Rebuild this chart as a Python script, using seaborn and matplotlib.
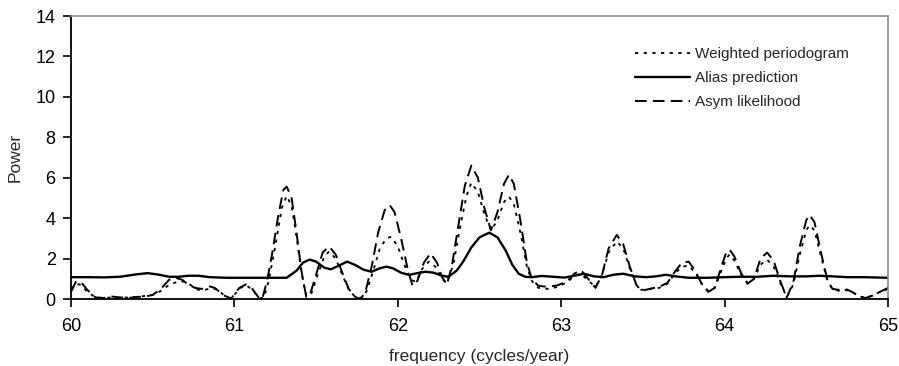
import numpy as np
import pandas as pd
import matplotlib
matplotlib.use("Agg")
import matplotlib.pyplot as plt
import seaborn as sns

# ---- data ----
asym_x = [60.00, 60.03, 60.06, 60.10, 60.15, 60.20, 60.25, 60.30, 60.35, 60.40, 60.45, 60.50,
          60.55, 60.60, 60.64, 60.68, 60.72, 60.76, 60.80, 60.85, 60.88, 60.93, 60.98, 61.03,
          61.07, 61.11, 61.15, 61.17, 61.20, 61.23, 61.27, 61.30, 61.32, 61.35, 61.38, 61.41,
          61.44, 61.46, 61.50, 61.54, 61.58, 61.62, 61.66, 61.70, 61.74, 61.77, 61.80, 61.84,
          61.88, 61.92, 61.95, 61.98, 62.02, 62.06, 62.09, 62.12, 62.16, 62.20, 62.24, 62.27,
          62.30, 62.33, 62.37, 62.41, 62.45, 62.49, 62.53, 62.57, 62.61, 62.65, 62.68, 62.71,
          62.75, 62.79, 62.82, 62.86, 62.92, 62.98, 63.04, 63.08, 63.12, 63.16, 63.21, 63.25,
          63.29, 63.34, 63.38, 63.42, 63.46, 63.49, 63.54, 63.60, 63.65, 63.70, 63.74, 63.78,
          63.82, 63.86, 63.90, 63.94, 63.98, 64.01, 64.03, 64.06, 64.10, 64.14, 64.18, 64.22,
          64.26, 64.30, 64.34, 64.38, 64.42, 64.46, 64.50, 64.52, 64.55, 64.59, 64.63, 64.66,
          64.70, 64.74, 64.78, 64.82, 64.86, 64.90, 64.95, 65.00]
asym_y = [0.35, 0.85, 0.85, 0.45, 0.08, 0.05, 0.12, 0.08, 0.05, 0.10, 0.12, 0.20,
          0.50, 0.95, 1.05, 0.95, 0.70, 0.55, 0.50, 0.62, 0.55, 0.20, 0.02, 0.55,
          0.72, 0.50, 0.05, 0.00, 0.90, 2.20, 4.20, 5.40, 5.56, 5.00, 3.30, 1.40,
          0.10, 0.15, 1.20, 2.30, 2.60, 2.20, 1.30, 0.50, 0.10, 0.00, 0.30, 1.60,
          3.30, 4.40, 4.65, 4.30, 3.00, 1.50, 0.65, 0.90, 1.80, 2.26, 1.80, 1.10,
          0.70, 1.60, 3.60, 5.60, 6.60, 6.00, 4.50, 3.40, 4.30, 5.70, 6.15, 5.70,
          3.90, 1.80, 1.00, 0.65, 0.60, 0.68, 0.90, 1.25, 1.43, 1.05, 0.55, 1.20,
          2.50, 3.17, 2.70, 1.60, 0.70, 0.40, 0.50, 0.60, 0.80, 1.40, 1.80, 1.85,
          1.40, 0.75, 0.35, 0.55, 1.60, 2.30, 2.45, 2.10, 1.30, 0.75, 1.00, 2.00,
          2.30, 1.90, 0.90, 0.08, 0.80, 2.60, 3.90, 4.16, 3.80, 2.30, 0.90, 0.50,
          0.45, 0.50, 0.35, 0.15, 0.05, 0.15, 0.35, 0.55]

wper_x = [60.00, 60.03, 60.06, 60.10, 60.15, 60.20, 60.25, 60.30, 60.35, 60.40, 60.45, 60.50,
          60.55, 60.60, 60.66, 60.70, 60.74, 60.78, 60.82, 60.86, 60.90, 60.94, 60.98, 61.03,
          61.07, 61.11, 61.15, 61.18, 61.21, 61.25, 61.29, 61.32, 61.35, 61.38, 61.41, 61.44,
          61.47, 61.51, 61.55, 61.58, 61.62, 61.66, 61.70, 61.74, 61.78, 61.81, 61.85, 61.89,
          61.93, 61.96, 62.00, 62.04, 62.08, 62.11, 62.15, 62.19, 62.23, 62.27, 62.30, 62.34,
          62.38, 62.42, 62.45, 62.49, 62.53, 62.57, 62.61, 62.65, 62.68, 62.71, 62.75, 62.79,
          62.82, 62.86, 62.92, 62.98, 63.04, 63.08, 63.12, 63.16, 63.21, 63.25, 63.29, 63.34,
          63.38, 63.42, 63.46, 63.49, 63.54, 63.60, 63.65, 63.70, 63.74, 63.78, 63.82, 63.86,
          63.90, 63.94, 63.98, 64.01, 64.03, 64.06, 64.10, 64.14, 64.18, 64.22, 64.26, 64.30,
          64.34, 64.38, 64.42, 64.46, 64.50, 64.52, 64.55, 64.59, 64.63, 64.66, 64.70, 64.74,
          64.78, 64.82, 64.86, 64.90, 64.95, 65.00]
wper_y = [0.50, 0.75, 0.70, 0.35, 0.08, 0.05, 0.08, 0.05, 0.08, 0.10, 0.15, 0.20,
          0.40, 0.70, 0.88, 0.85, 0.65, 0.45, 0.45, 0.55, 0.45, 0.15, 0.02, 0.50,
          0.70, 0.45, 0.05, 0.05, 0.90, 2.60, 4.50, 5.10, 4.60, 3.10, 1.30, 0.15,
          0.25, 1.20, 2.10, 2.35, 2.00, 1.20, 0.45, 0.10, 0.05, 0.40, 1.40, 2.50,
          3.00, 3.08, 2.60, 1.70, 0.95, 0.85, 1.50, 1.85, 1.60, 1.00, 0.80, 1.70,
          3.50, 5.10, 5.75, 5.30, 4.20, 3.40, 3.90, 4.80, 5.07, 4.70, 3.30, 1.60,
          0.90, 0.55, 0.50, 0.60, 0.85, 1.15, 1.25, 0.95, 0.60, 1.20, 2.30, 2.85,
          2.50, 1.50, 0.70, 0.45, 0.50, 0.55, 0.75, 1.30, 1.60, 1.65, 1.30, 0.75,
          0.40, 0.55, 1.40, 2.00, 2.20, 1.90, 1.20, 0.80, 1.00, 1.70, 1.95, 1.60,
          0.80, 0.10, 0.70, 2.20, 3.40, 3.65, 3.40, 2.10, 0.90, 0.50, 0.40, 0.45,
          0.35, 0.15, 0.05, 0.15, 0.35, 0.50]

alias_x = [60.00, 60.10, 60.20, 60.30, 60.40, 60.47, 60.54, 60.60, 60.66, 60.72, 60.78, 60.85,
           60.95, 61.05, 61.15, 61.25, 61.32, 61.38, 61.42, 61.46, 61.50, 61.55, 61.59, 61.64,
           61.69, 61.74, 61.79, 61.84, 61.89, 61.93, 61.97, 62.02, 62.07, 62.12, 62.17, 62.22,
           62.27, 62.31, 62.36, 62.40, 62.45, 62.50, 62.56, 62.61, 62.66, 62.70, 62.74, 62.78,
           62.82, 62.88, 62.95, 63.02, 63.08, 63.14, 63.20, 63.26, 63.32, 63.38, 63.45, 63.52,
           63.58, 63.64, 63.70, 63.78, 63.90, 64.00, 64.10, 64.20, 64.30, 64.40, 64.50, 64.58,
           64.66, 64.75, 64.85, 65.00]
alias_y = [1.08, 1.08, 1.07, 1.10, 1.22, 1.28, 1.20, 1.10, 1.10, 1.15, 1.15, 1.08,
           1.05, 1.05, 1.05, 1.05, 1.05, 1.40, 1.80, 1.95, 1.85, 1.55, 1.47, 1.65,
           1.85, 1.68, 1.45, 1.35, 1.52, 1.60, 1.52, 1.30, 1.19, 1.28, 1.35, 1.30,
           1.15, 1.10, 1.40, 1.85, 2.55, 3.05, 3.28, 3.05, 2.40, 1.70, 1.25, 1.10,
           1.08, 1.14, 1.10, 1.06, 1.15, 1.25, 1.12, 1.08, 1.20, 1.25, 1.12, 1.08,
           1.12, 1.20, 1.12, 1.05, 1.05, 1.08, 1.10, 1.10, 1.15, 1.12, 1.12, 1.15,
           1.12, 1.08, 1.08, 1.05]

series_names = ["Weighted periodogram", "Alias prediction", "Asym likelihood"]
x_ticks = [60, 61, 62, 63, 64, 65]
y_ticks = [0, 2, 4, 6, 8, 10, 12, 14]

df = pd.concat([
    pd.DataFrame({"freq": wper_x, "power": wper_y, "series": series_names[0]}),
    pd.DataFrame({"freq": alias_x, "power": alias_y, "series": series_names[1]}),
    pd.DataFrame({"freq": asym_x, "power": asym_y, "series": series_names[2]}),
], ignore_index=True)

sns.set_style("ticks")
plt.rcParams["font.family"] = ["Liberation Sans", "DejaVu Sans"]

fig = plt.figure(figsize=(8.99, 3.66), dpi=100)
ax = fig.add_axes([71 / 899, 1 - 299 / 366, (888 - 71) / 899, (299 - 16) / 366])

styles = {
    series_names[0]: dict(ls=(0, (1.8, 3.0)), lw=1.3),
    series_names[1]: dict(ls="-", lw=1.7),
    series_names[2]: dict(ls=(0, (6.0, 3.2)), lw=1.4),
}
for name in series_names:
    sub = df[df["series"] == name]
    sns.lineplot(data=sub, x="freq", y="power", ax=ax, color="black",
                 linestyle=styles[name]["ls"], linewidth=styles[name]["lw"],
                 label=name, estimator=None, sort=False)

ax.set_xlim(60, 65)
ax.set_ylim(0, 14)
ax.set_xticks(x_ticks)
ax.set_yticks(y_ticks)
ax.set_xticklabels([str(t) for t in x_ticks])
ax.set_yticklabels([str(t) for t in y_ticks])
ax.tick_params(axis="both", direction="out", length=6, width=1.2, colors="black",
               labelsize=13, pad=5)
ax.tick_params(axis="x", pad=8)
for s in ["left", "bottom"]:
    ax.spines[s].set_color("black")
    ax.spines[s].set_linewidth(1.3)
for s in ["top", "right"]:
    ax.spines[s].set_color("#8c8c8c")
    ax.spines[s].set_linewidth(1.2)

ax.set_xlabel("frequency (cycles/year)", fontsize=12.5, labelpad=9.5)
ax.set_ylabel("Power", fontsize=12.5, labelpad=9)

leg = ax.legend(loc="upper left", bbox_to_anchor=(0.690, 0.890), frameon=False,
                borderpad=0, borderaxespad=0,
                fontsize=11, handlelength=3.6, handletextpad=0.35, labelspacing=0.65)

fig.savefig("out.png", dpi=100)
